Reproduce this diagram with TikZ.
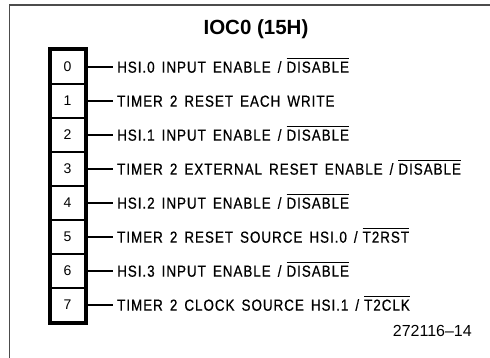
\documentclass[tikz,border=0pt]{standalone}
\usepackage{fontspec}
\setmainfont{Liberation Sans}
\newfontfamily\lblfont[LetterSpace=6,WordSpace=1.5,FakeStretch=0.84,FakeBold=0.6]{Liberation Sans}
% bar over an active-low signal name, set close after its slash
\newcommand\actlow[1]{/\kern5pt\vbox{\hrule height 1.2pt\kern 2.2pt\hbox{#1}}}
\begin{document}
\begin{tikzpicture}[x=1pt,y=-1pt,
  frame/.style={draw=black!70,line width=1.5pt},
  cell/.style={draw,line width=2pt,minimum width=34.2pt,minimum height=34pt,
    inner sep=0pt,font=\fontsize{14}{16}\selectfont},
  desc/.style={anchor=base west,inner xsep=4pt,inner ysep=0pt,
    font=\lblfont\fontsize{16}{18}\selectfont},
  conn/.style={line width=2.4pt}]
\useasboundingbox (0,0) rectangle (490,358);
% outer frame, open towards the right and bottom edges
\draw[frame] (9.5,358) -- (9.5,4.8) -- (490,4.8);
% title
\node[font=\bfseries\fontsize{20.5}{22}\selectfont] (title) at (256,29) {IOC0 (15H)};
% register bits
\foreach \i in {0,...,7} {
  \node[cell] (c\i) at (67.6,67+34*\i) {\i};
}
\draw[line width=4pt] (c0.north west) rectangle (c7.south east);
% bit descriptions
\foreach \i/\t in {0/{HSI.0 INPUT ENABLE \actlow{DISABLE}},
                   1/{TIMER 2 RESET EACH WRITE},
                   2/{HSI.1 INPUT ENABLE \actlow{DISABLE}},
                   3/{TIMER 2 EXTERNAL RESET ENABLE \actlow{DISABLE}},
                   4/{HSI.2 INPUT ENABLE \actlow{DISABLE}},
                   5/{TIMER 2 RESET SOURCE HSI.0 \actlow{T2RST}},
                   6/{HSI.3 INPUT ENABLE \actlow{DISABLE}},
                   7/{TIMER 2 CLOCK SOURCE HSI.1 \actlow{T2CLK}}} {
  \node[desc] (t\i) at (113,67+34*\i+5.7) {\t};
  \draw[conn] (c\i.east) -- (c\i.east -| t\i.west);
}
% figure number
\node[anchor=base east,inner sep=0pt,font=\fontsize{16}{18}\selectfont] (fig) at (472,336) {272116--14};
\end{tikzpicture}
\end{document}
